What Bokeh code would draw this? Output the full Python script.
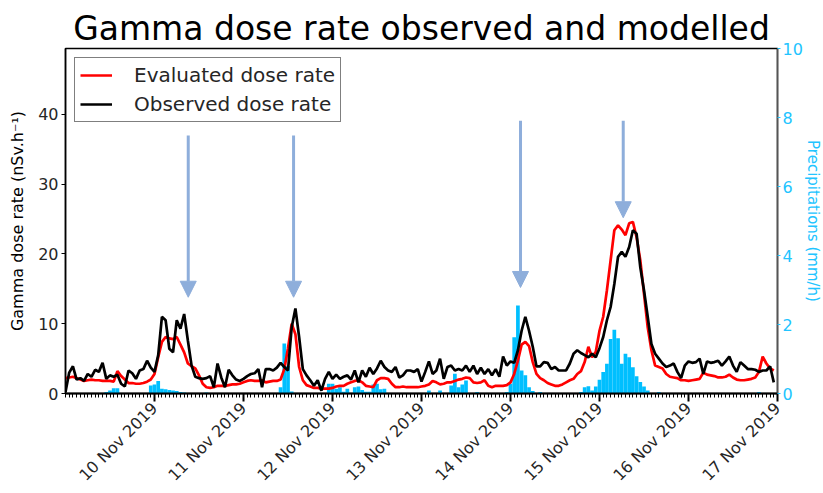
import pandas as pd
from bokeh.plotting import figure
from bokeh.models import (Range1d, LinearAxis, FixedTicker, DatetimeTickFormatter,
                          Legend, LegendItem, Arrow, NormalHead)
from bokeh.embed import file_html
from bokeh.resources import INLINE

# ---------------- data (hourly, from 9 Nov 2019 00:00) ----------------
start_time = "2019-11-09 00:00"
end_time = "2019-11-17 00:00"

observed = [
    0.2, 3.0, 3.9, 2.0, 2.2, 1.8, 2.8, 2.4, 3.4, 3.1, 4.4, 2.1, 2.6, 2.4, 2.7, 1.4, 1.0, 3.3, 2.9, 2.1, 3.3, 3.5, 4.7, 3.7,
    3.1, 5.5, 11.0, 10.5, 6.4, 5.9, 10.5, 9.3, 11.4, 7.6, 4.0, 2.4, 2.2, 2.1, 2.2, 2.5, 0.9, 4.3, 2.3, 0.9, 3.4, 2.6, 2.0, 1.8,
    2.1, 2.5, 2.8, 2.9, 3.5, 0.9, 3.5, 3.5, 3.3, 3.7, 4.4, 3.8, 3.3, 9.5, 12.2, 8.1, 3.5, 2.6, 1.9, 1.1, 1.9, 0.4, 2.1, 3.1,
    2.1, 2.7, 2.1, 2.4, 2.6, 2.0, 3.3, 1.6, 3.3, 2.4, 3.7, 2.8, 3.6, 4.7, 3.8, 3.3, 3.1, 3.8, 2.3, 2.6, 3.3, 3.3, 3.1, 3.5,
    1.7, 3.1, 4.6, 2.8, 3.3, 5.0, 2.1, 3.8, 4.0, 3.3, 3.5, 3.3, 4.0, 3.1, 4.0, 2.8, 3.7, 2.8, 3.5, 2.6, 3.5, 2.4, 5.3, 4.0,
    4.6, 4.4, 6.2, 9.0, 11.0, 9.0, 6.7, 3.9, 3.9, 4.5, 4.4, 3.5, 3.8, 3.3, 3.3, 3.3, 4.3, 5.7, 6.2, 5.8, 5.5, 5.2, 5.7, 5.2,
    6.5, 8.1, 10.5, 12.4, 15.7, 19.6, 20.3, 19.6, 21.0, 23.4, 22.9, 18.1, 14.8, 11.0, 7.1, 5.7, 5.0, 4.3, 3.8, 4.0, 4.3, 3.1, 2.2, 4.0,
    4.6, 4.4, 4.5, 5.0, 2.8, 4.6, 4.4, 4.5, 4.7, 4.0, 4.6, 5.3, 4.0, 3.1, 4.5, 4.0, 3.5, 3.5, 3.4, 3.1, 3.3, 3.3, 3.9, 1.6,
]

evaluated = [
    2.2, 2.3, 2.4, 2.2, 2.0, 1.8, 1.9, 2.0, 1.9, 1.9, 1.8, 1.8, 1.8, 1.7, 3.2, 2.5, 2.0, 1.5, 1.5, 1.4, 1.4, 1.5, 1.7, 2.0,
    2.8, 5.2, 7.4, 8.1, 7.9, 7.8, 8.1, 7.0, 5.9, 4.3, 3.9, 3.6, 2.6, 1.4, 0.9, 0.8, 0.9, 1.1, 1.1, 1.1, 1.2, 1.3, 1.3, 1.4,
    1.6, 1.8, 1.9, 1.8, 1.8, 1.9, 1.6, 1.7, 1.8, 1.8, 2.0, 3.5, 6.5, 10.0, 8.5, 3.8, 1.9, 1.2, 1.0, 0.8, 0.8, 0.7, 0.7, 0.7,
    0.8, 1.0, 1.1, 1.1, 1.4, 1.6, 1.8, 1.9, 1.6, 1.1, 1.0, 0.9, 1.9, 2.2, 2.2, 2.1, 1.4, 0.9, 0.9, 1.0, 0.9, 0.9, 0.9, 0.9,
    1.0, 1.1, 1.3, 1.8, 1.6, 1.3, 1.4, 1.6, 1.6, 1.8, 2.0, 2.1, 2.3, 2.2, 1.6, 1.5, 1.6, 1.9, 1.1, 0.9, 1.1, 1.1, 1.1, 1.2,
    1.6, 2.8, 4.7, 7.0, 7.4, 6.8, 4.5, 2.8, 2.2, 1.9, 1.5, 1.3, 1.1, 1.1, 1.3, 1.6, 1.9, 2.1, 2.8, 3.2, 4.5, 6.7, 5.2, 6.0,
    9.0, 11.0, 14.8, 19.1, 23.4, 24.1, 23.5, 22.7, 24.4, 24.6, 22.4, 19.1, 14.3, 9.5, 6.2, 4.0, 3.8, 3.6, 2.8, 2.4, 2.3, 2.2, 1.9, 1.9,
    1.8, 1.9, 2.0, 2.1, 3.0, 2.7, 2.6, 2.5, 2.3, 2.3, 2.4, 2.7, 2.3, 2.0, 1.9, 1.9, 2.0, 2.1, 2.3, 3.1, 5.3, 4.3, 3.6, 3.3,
]

precipitation = [
    0, 0, 0, 0, 0, 0, 0, 0, 0, 0, 0, 0.04, 0.09, 0.15, 0.15, 0, 0, 0, 0, 0, 0, 0, 0, 0.23,
    0.26, 0.36, 0.14, 0.12, 0.10, 0.09, 0.07, 0.04, 0.03, 0, 0, 0, 0, 0, 0.03, 0, 0, 0, 0, 0, 0, 0, 0, 0,
    0, 0, 0, 0, 0, 0, 0, 0, 0, 0, 0.18, 1.45, 0.8, 0.06, 0, 0, 0, 0, 0, 0, 0, 0, 0, 0.28,
    0.28, 0.14, 0.18, 0.05, 0.14, 0, 0.18, 0.2, 0.1, 0.05, 0.05, 0.26, 0.28, 0.12, 0.14, 0, 0, 0, 0, 0, 0, 0, 0, 0,
    0, 0, 0.09, 0, 0, 0.09, 0, 0, 0.23, 0.57, 0.18, 0.26, 0.38, 0, 0, 0.04, 0, 0, 0, 0, 0, 0, 0, 0.04,
    0.28, 1.63, 2.55, 0.67, 0.53, 0.18, 0.07, 0, 0.04, 0, 0, 0, 0, 0, 0, 0, 0, 0, 0, 0.04, 0.18, 0.21, 0.09, 0.2,
    0.4, 0.62, 0.86, 1.58, 1.85, 1.6, 0.86, 1.15, 1.05, 0.76, 0.5, 0.33, 0.2, 0.09, 0, 0, 0.04, 0, 0, 0, 0, 0, 0, 0,
    0, 0, 0, 0, 0, 0, 0, 0, 0, 0, 0, 0, 0, 0, 0, 0, 0, 0, 0, 0.04, 0, 0, 0, 0,
]

# arrows (hours after start, top and tip on the dose-rate scale)
arrow_hours = [33.1, 61.5, 122.7, 150.4]
arrow_top = [37.0, 37.0, 39.1, 39.1]
arrow_tip = [13.8, 13.8, 15.2, 25.2]

left_ticks = [0, 10, 20, 30, 40]
right_ticks = [0, 2, 4, 6, 8, 10]

title_text = "Gamma dose rate observed and modelled"
left_label = "Gamma dose rate (nSv.h\u207b\u00b9)"
right_label = "Precipitations (mm/h)"
legend_labels = ["Evaluated dose rate", "Observed dose rate"]

# ---------------- build ----------------
t0 = pd.Timestamp(start_time)
t1 = pd.Timestamp(end_time)
times = pd.date_range(t0, periods=len(observed), freq="h")
epoch = pd.Timestamp("1970-01-01")


def ms(t):
    return (t - epoch).total_seconds() * 1000.0


FONT = "DejaVu Sans"
TXT = "#262626"
BLUE = "#00bfff"
BLUE_TXT = "#22c4ff"
ARROW = "#8eaedb"

p = figure(frame_width=712, frame_height=345, x_axis_type="datetime",
           output_backend="svg", toolbar_location=None,
           x_range=Range1d(t0, t1), y_range=Range1d(0, 49.46),
           min_border_left=65, min_border_right=36, min_border_top=48,
           min_border_bottom=92)

p.title.text = title_text
p.title.align = "center"
p.title.text_font = FONT
p.title.text_font_size = "33px"
p.title.text_font_style = "normal"
p.title.text_color = "black"
p.title.standoff = 2

p.xgrid.visible = False
p.ygrid.visible = False
p.outline_line_color = "black"
p.outline_line_width = 1.5
p.background_fill_color = "white"
p.border_fill_color = "white"

p.extra_y_ranges = {"precip": Range1d(0, 10)}

p.vbar(x=times, top=precipitation, width=3600000, y_range_name="precip",
       fill_color=BLUE, line_color=None)

r_eval = p.line(times, evaluated, line_color="red", line_width=2.7)
r_obs = p.line(times, observed, line_color="black", line_width=2.7)

for h, top, tip in zip(arrow_hours, arrow_top, arrow_tip):
    xa = ms(t0 + pd.Timedelta(hours=h))
    p.add_layout(Arrow(end=NormalHead(size=16, fill_color=ARROW, line_color=ARROW),
                       x_start=xa, y_start=top, x_end=xa, y_end=tip,
                       line_color=ARROW, line_width=3))

# x axis
day_ticks = [ms(t) for t in pd.date_range(t0 + pd.Timedelta(days=1), t1, freq="D")]
hour_ticks = [ms(t) for t in pd.date_range(t0, t1, freq="h")]
xa_ = p.xaxis[0]
xa_.ticker = FixedTicker(ticks=day_ticks, minor_ticks=hour_ticks)
xa_.formatter = DatetimeTickFormatter(days="%d %b %Y", hours="%d %b %Y", months="%d %b %Y")
xa_.major_label_orientation = 0.785398
xa_.major_label_text_font = FONT
xa_.major_label_text_font_size = "16px"
xa_.major_label_text_color = TXT
xa_.axis_line_color = "black"
xa_.axis_line_width = 2
xa_.major_tick_in = 0
xa_.major_tick_out = 8
xa_.minor_tick_in = 0
xa_.minor_tick_out = 4
xa_.major_tick_line_width = 2
xa_.major_tick_line_color = "black"
xa_.minor_tick_line_color = "black"
xa_.major_label_standoff = 4

# left axis
ya = p.yaxis[0]
ya.ticker = FixedTicker(ticks=left_ticks)
ya.axis_label = left_label
ya.axis_label_text_font = FONT
ya.axis_label_text_font_size = "16px"
ya.axis_label_text_font_style = "normal"
ya.axis_label_text_color = "black"
ya.axis_label_standoff = 8
ya.major_label_text_font = FONT
ya.major_label_text_font_size = "16px"
ya.major_label_text_color = TXT
ya.axis_line_color = "black"
ya.axis_line_width = 1.5
ya.major_tick_in = 0
ya.major_tick_out = 4
ya.minor_tick_out = 0
ya.minor_tick_in = 0
ya.major_label_standoff = 3

# right axis
ry = LinearAxis(y_range_name="precip", ticker=FixedTicker(ticks=right_ticks),
                axis_label=right_label)
ry.axis_label_text_font = FONT
ry.axis_label_text_font_size = "15px"
ry.axis_label_text_font_style = "normal"
ry.axis_label_text_color = BLUE_TXT
ry.axis_label_standoff = -2
ry.major_label_text_font = FONT
ry.major_label_text_font_size = "16px"
ry.major_label_text_color = BLUE_TXT
ry.axis_line_color = "#555555"
ry.axis_line_width = 1.5
ry.major_tick_line_color = BLUE_TXT
ry.major_tick_in = 0
ry.major_tick_out = 3
ry.minor_tick_in = 0
ry.minor_tick_out = 0
ry.major_label_standoff = 2
p.add_layout(ry, "right")

legend = Legend(items=[LegendItem(label=legend_labels[0], renderers=[r_eval]),
                       LegendItem(label=legend_labels[1], renderers=[r_obs])],
                location="top_left")
legend.margin = 9
legend.padding = 5
legend.spacing = 5
legend.glyph_width = 32
legend.glyph_height = 22
legend.label_height = 22
legend.label_standoff = 22
legend.label_text_font = FONT
legend.label_text_font_size = "20px"
legend.label_text_color = TXT
legend.border_line_color = "black"
legend.border_line_width = 1.2
legend.background_fill_color = "white"
legend.background_fill_alpha = 1.0
p.add_layout(legend, "center")

open("out.html", "w").write(file_html(p, INLINE))
